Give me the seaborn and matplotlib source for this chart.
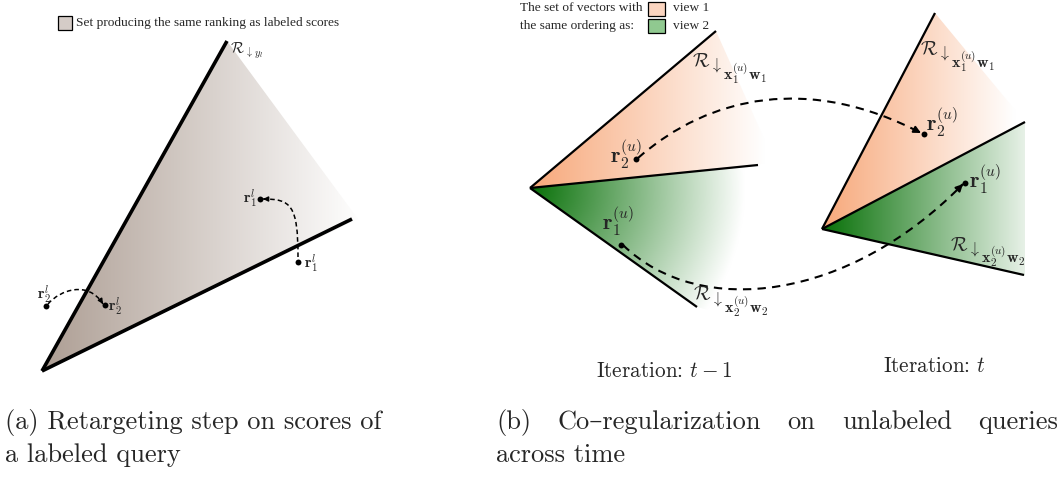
import numpy as np
import matplotlib
matplotlib.use("Agg")
import matplotlib.pyplot as plt
from matplotlib.patches import Polygon, PathPatch, Rectangle
from matplotlib.path import Path
import seaborn as sns

sns.set_theme(style="white")
plt.rcParams["mathtext.fontset"] = "cm"
plt.rcParams["font.family"] = ["Liberation Serif", "DejaVu Serif"]

# ---------------------------------------------------------------- geometry
# panel (a): cone of score vectors giving the labeled ranking
cone_a_apex = (42, 371)
cone_a_ends = [(227, 41), (352, 219)]
cone_a_region = [(42, 371), (227, 41), (358, 219)]

# panel (b): two view cones at iteration t-1 (left) and t (right)
cone_left_apex = (530, 188)
cone_left_ends = [(716, 31), (758, 165), (697, 307)]
cone_left_view1 = [(530, 188), (716, 31), (775, 163)]
cone_left_view2 = [(530, 188), (790, 161), (790, 330), (697, 307)]

cone_right_apex = (822, 229)
cone_right_ends = [(935, 13), (1025, 122), (1024, 275)]
cone_right_view1 = [(822, 229), (935, 13), (1025, 122)]
cone_right_view2 = [(822, 229), (1025, 122), (1025, 276)]

# score vectors (dots)
dot_x = [260, 298, 46, 105, 636, 621, 924, 965]
dot_y = [199, 262, 306, 305, 159, 245, 134, 183]

# dashed moves (cubic Bezier control points: start, c1, c2, end)
move_r1_a = [(298, 257), (298, 205), (291, 199), (263, 199)]
move_r2_a = [(48, 304), (60, 290), (88, 280), (103, 304)]
move_r2_b = [(638, 158), (710, 95), (810, 75), (921, 133)]
move_r1_b = [(623, 245), (700, 320), (850, 300), (963, 184)]

# captions
caption_a = ["(a) Retargeting step on scores of", "a labeled query"]
caption_b_words = ["(b)", "Co–regularization", "on", "unlabeled", "queries"]
caption_b_last = "across time"

# colours
gray_tone = (0.68, 0.62, 0.58)
orange_tone = (0.97, 0.66, 0.48)
green_tone = (0.03, 0.44, 0.03)

# ---------------------------------------------------------------- figure
fig = plt.figure(figsize=(10.6, 4.82), dpi=100)
ax = fig.add_axes([0, 0, 1, 1])
ax.set_xlim(0, 1060)
ax.set_ylim(482, 0)
ax.axis("off")
renderer = fig.canvas.get_renderer()


def text_width(t):
    return t.get_window_extent(renderer).width


def gradient_fill(region, color, origin, reach, radial=False):
    """Fill a polygon with a fade from `color` (at origin) to white."""
    xs = [p[0] for p in region]
    ys = [p[1] for p in region]
    bx0, bx1 = min(xs), max(xs)
    by0, by1 = min(ys), max(ys)
    gx, gy = np.meshgrid(np.linspace(bx0, bx1, 300), np.linspace(by0, by1, 300))
    if radial:
        dist = np.hypot(gx - origin[0], gy - origin[1])
    else:
        dist = gx - origin[0]
    frac = np.clip(dist / reach, 0, 1)
    rgb = np.array(color)[None, None, :] * (1 - frac[..., None]) + frac[..., None]
    im = ax.imshow(rgb, extent=(bx0, bx1, by1, by0), aspect="auto",
                   origin="upper", interpolation="bilinear", zorder=1)
    poly = Polygon(region, closed=True, facecolor="none", edgecolor="none",
                   transform=ax.transData)
    ax.add_patch(poly)
    im.set_clip_path(poly)


def cone_edges(apex, ends, lw):
    for e in ends:
        ax.plot([apex[0], e[0]], [apex[1], e[1]], color="black", lw=lw,
                solid_capstyle="butt", zorder=3)


def dashed_move(pts, lw, dashes, head=8):
    path = Path(pts, [Path.MOVETO, Path.CURVE4, Path.CURVE4, Path.CURVE4])
    patch = PathPatch(path, facecolor="none", edgecolor="black", lw=lw,
                      linestyle=(0, dashes), zorder=4)
    ax.add_patch(patch)
    (x2, y2), (x3, y3) = pts[2], pts[3]
    d = np.hypot(x3 - x2, y3 - y2)
    back = (x3 - (x3 - x2) / d * 3, y3 - (y3 - y2) / d * 3)
    ax.annotate("", xy=pts[3], xytext=back,
                arrowprops=dict(arrowstyle="-|>", color="black", lw=lw,
                                mutation_scale=head, shrinkA=0, shrinkB=0),
                zorder=5)


def cone_label(x, y, inner, sizes, drops):
    """Calligraphic R, a down arrow, then the lowered inner subscript,
    each piece set right after the previous one."""
    pieces = [r"$\mathcal{R}$", r"$\downarrow$", inner]
    for piece, size, dy in zip(pieces, sizes, (0,) + tuple(drops)):
        t = ax.text(x, y + dy, piece, fontsize=size, ha="left",
                    va="baseline", zorder=7)
        x += text_width(t)


# panel (a)
gradient_fill(cone_a_region, gray_tone, (42, 371), 320)
cone_edges(cone_a_apex, cone_a_ends, 2.6)
dashed_move(move_r1_a, 1.1, (3, 2), head=7)
dashed_move(move_r2_a, 1.1, (3, 2), head=7)

# panel (b)
gradient_fill(cone_left_view1, orange_tone, (530, 188), 235)
gradient_fill(cone_left_view2, green_tone, (530, 188), 215, radial=True)
gradient_fill(cone_right_view1, orange_tone, (822, 229), 193)
gradient_fill(cone_right_view2, green_tone, (822, 229), 225)
cone_edges(cone_left_apex, cone_left_ends, 1.6)
cone_edges(cone_right_apex, cone_right_ends, 1.6)
dashed_move(move_r2_b, 1.5, (4, 3), head=10)
dashed_move(move_r1_b, 1.5, (4, 3), head=10)

sns.scatterplot(x=dot_x, y=dot_y, color="black", s=18, linewidth=0,
                ax=ax, legend=False, zorder=6)
ax.set_xlim(0, 1060)
ax.set_ylim(482, 0)

# ---------------------------------------------------------------- labels
lab_a = 11
ax.text(257, 199, r"$\mathbf{r}_1^l$", fontsize=lab_a, ha="right", va="center")
ax.text(304, 264, r"$\mathbf{r}_1^l$", fontsize=lab_a, ha="left", va="center")
ax.text(44, 295, r"$\mathbf{r}_2^l$", fontsize=lab_a, ha="center", va="center")
ax.text(108, 307, r"$\mathbf{r}_2^l$", fontsize=lab_a, ha="left", va="center")
cone_label(230, 53, r"$y_l$", (11, 7.5, 7.5), (2, 3))

lab_b = 16
ax.text(610, 163, r"$\mathbf{r}_2^{(u)}$", fontsize=lab_b, ha="left", va="baseline")
ax.text(602, 230, r"$\mathbf{r}_1^{(u)}$", fontsize=lab_b, ha="left", va="baseline")
ax.text(926, 131, r"$\mathbf{r}_2^{(u)}$", fontsize=lab_b, ha="left", va="baseline")
ax.text(969, 188, r"$\mathbf{r}_1^{(u)}$", fontsize=lab_b, ha="left", va="baseline")

inner_view1 = r"$\mathbf{x}_1^{(u)}\mathbf{w}_1$"
inner_view2 = r"$\mathbf{x}_2^{(u)}\mathbf{w}_2$"
sizes_b = (14, 11.5, 11.5)
cone_label(692, 67, inner_view1, sizes_b, (3, 13))
cone_label(693, 300, inner_view2, sizes_b, (3, 13))
cone_label(920, 55, inner_view1, sizes_b, (3, 13))
cone_label(950, 251, inner_view2, sizes_b, (3, 12))

ax.text(596, 377, r"Iteration: $t-1$", fontsize=15.3, family="cmr10",
        ha="left", va="baseline")
ax.text(883, 372, r"Iteration: $t$", fontsize=15.3, family="cmr10",
        ha="left", va="baseline")

# legends
ax.add_patch(Rectangle((58, 16), 14, 14, facecolor="#d5ccc7",
                       edgecolor="black", lw=0.9, zorder=5))
ax.text(76, 23, "Set producing the same ranking as labeled scores",
        fontsize=9.6, ha="left", va="center")

leg_b = 9.6
ax.text(520, 8, "The set of vectors with", fontsize=leg_b, ha="left", va="center")
ax.text(520, 26, "the same ordering as:", fontsize=leg_b, ha="left", va="center")
ax.add_patch(Rectangle((648, 2), 17, 14, facecolor="#fbd5c0",
                       edgecolor="black", lw=0.9, zorder=5))
ax.add_patch(Rectangle((648, 19), 17, 14, facecolor="#90c990",
                       edgecolor="black", lw=0.9, zorder=5))
ax.text(673, 8, "view 1", fontsize=leg_b, ha="left", va="center")
ax.text(673, 26, "view 2", fontsize=leg_b, ha="left", va="center")

# captions (the first line of (b) is justified across its column)
cap = dict(fontsize=19, family=["cmr10", "DejaVu Serif"], va="center", ha="left")
ax.text(5, 422, caption_a[0], **cap)
ax.text(5, 455, caption_a[1], **cap)
col_left, col_right = 496, 1058
word_texts = [ax.text(col_left, 422, w, **cap) for w in caption_b_words]
widths = [text_width(t) for t in word_texts]
gap = (col_right - col_left - sum(widths)) / (len(widths) - 1)
x = col_left
for t, w in zip(word_texts, widths):
    t.set_x(x)
    x += w + gap
ax.text(col_left, 455, caption_b_last, **cap)

fig.savefig("out.png", dpi=100, facecolor="white")
